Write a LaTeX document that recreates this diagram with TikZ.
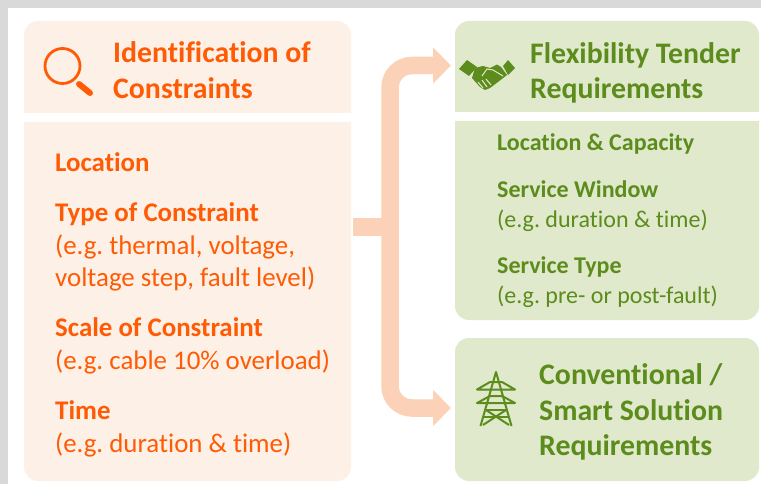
\documentclass[tikz,border=0pt]{standalone}
\usepackage{fontspec}
\setmainfont[Ligatures=NoCommon]{Carlito}
\usetikzlibrary{arrows.meta}
\definecolor{pagegrey}{HTML}{D9D9D9}
\definecolor{peach}{HTML}{FDF0E7}
\definecolor{sage}{HTML}{E1E9CD}
\definecolor{flame}{HTML}{FF5B05}
\definecolor{leaf}{HTML}{5B8C1C}
\definecolor{pipe}{HTML}{FBD2B8}
\tikzset{
    headtext/.style={anchor=west, align=left, inner sep=0pt, font=\fontsize{29.8}{35.7}\selectfont\bfseries},
    bodytext/.style={anchor=west, align=left, inner sep=0pt, font=\fontsize{26.9}{32.8}\selectfont\frenchspacing},
    sidetext/.style={anchor=west, align=left, inner sep=0pt, font=\fontsize{24}{30}\selectfont\frenchspacing},
    pipeline/.style={pipe, line width=17.5pt, rounded corners=22pt},
    pipetip/.style={pipeline, -{Triangle[length=18pt,width=35pt]}},
    towerline/.style={leaf, line width=2pt, line join=round},
}
\begin{document}
\begin{tikzpicture}[x=1pt, y=-1pt]
    \useasboundingbox (0,0) rectangle (761,484);
    % page
    \fill[pagegrey] (0,0) rectangle (761,484);
    \fill[white] (8,8) rectangle (761,484);
    % left panel
    \fill[peach] (24,113) [rounded corners=14pt] -- (24,21) -- (351,21) [sharp corners] -- (351,113) -- cycle;
    \fill[peach] (24,122) -- (351,122) [rounded corners=14pt] -- (351,481) -- (24,481) [sharp corners] -- cycle;
    % right panels
    \fill[sage] (455,112) [rounded corners=14pt] -- (455,21) -- (759,21) [sharp corners] -- (759,112) -- cycle;
    \fill[sage] (455,121) -- (759,121) [rounded corners=14pt] -- (759,320) -- (455,320) [sharp corners] -- cycle;
    \fill[sage, rounded corners=14pt] (455,338) rectangle (759,481);
    % connectors
    \coordinate (stem) at (353,227);
    \coordinate (flexin) at (451,65.5);
    \coordinate (convin) at (451,408);
    \draw[pipetip] (390,227) |- (flexin);
    \draw[pipetip] (390,227) |- (convin);
    \draw[pipe, line width=17.5pt] (stem) -- (390,227);
    % magnifier
    \draw[flame, line width=2.8pt] (62.5,66) circle[radius=17.5];
    \draw[flame, line width=6pt, line cap=round] (79,84) -- (90,93);
    % handshake
    \fill[leaf] (459,69) -- (467,60) -- (477,67) -- (469,76) -- cycle;
    \fill[leaf] (503,66) -- (508,60) -- (515,68) -- (508,75) -- cycle;
    \fill[leaf] (475,68) -- (483,66) -- (490,68) -- (497,64.5) -- (501,67) -- (507,75) -- (498,82) -- (490,88) -- (485,90) -- (480,87) -- (472,78) -- cycle;
    \draw[sage, line width=1pt] (482,76) -- (487,69) -- (493,70) -- (503,76);
    \draw[sage, line width=1pt] (478,82) -- (483,88) (482,80) -- (487,87) (486,79) -- (491,85);
    % tower
    \draw[towerline] (480.5,426) -- (496,372) -- (511.5,426);
    \draw[towerline] (477,389.5) -- (490,382) -- (502,382) -- (515,389.5) -- cycle;
    \draw[towerline] (477,403) -- (490,396) -- (502,396) -- (515,403) -- cycle;
    \draw[towerline] (486,410) -- (506,410) (483,417) -- (509,417);
    \draw[towerline] (486,410) -- (509,425) (506,410) -- (483,425);
    % header texts
    \node[headtext, text=flame] (consthead) at (113,70) {Identification of\\Constraints};
    \node[headtext, text=leaf] (flexhead) at (530,73) {Flexibility Tender\\Requirements};
    \node[headtext, text=leaf] (convhead) at (539,412) {Conventional /\\Smart Solution\\Requirements};
    % left texts
    \node[bodytext, text=flame] (loc) at (55,162) {\textbf{Location}};
    \node[bodytext, text=flame] (type) at (55,247) {\textbf{Type of Constraint}\\(e.g. thermal, voltage,\\voltage step, fault level)};
    \node[bodytext, text=flame] (scale) at (55,345.5) {\textbf{Scale of Constraint}\\(e.g. cable 10\% overload)};
    \node[bodytext, text=flame] (time) at (55,428.5) {\textbf{Time}\\(e.g. duration \& time)};
    % right texts
    \node[sidetext, text=leaf] (cap) at (497,144) {\textbf{Location \& Capacity}};
    \node[sidetext, text=leaf] (win) at (497,206) {\textbf{Service Window}\\(e.g. duration \& time)};
    \node[sidetext, text=leaf] (svc) at (497,282) {\textbf{Service Type}\\(e.g. pre- or post-fault)};
\end{tikzpicture}
\end{document}
